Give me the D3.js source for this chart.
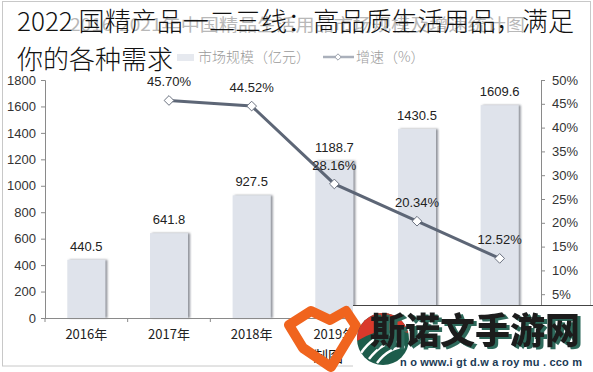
<!DOCTYPE html>
<html><head><meta charset="utf-8">
<script src="https://cdn.jsdelivr.net/npm/d3@7"></script>
<style>
html,body{margin:0;padding:0;background:#fff;}
svg{display:block;}
</style></head>
<body><svg id="c" width="593" height="372"></svg>
<script>
const categories = ["2016年","2017年","2018年","2019年","2020年","2021年"];
const marketSize = [440.5, 641.8, 927.5, 1188.7, 1430.5, 1609.6];
const growthCats = ["2017年","2018年","2019年","2020年","2021年"];
const growth = [45.70, 44.52, 28.16, 20.34, 12.52];
const leftTicks = [0,200,400,600,800,1000,1200,1400,1600,1800];
const rightTicks = [0,5,10,15,20,25,30,35,40,45,50];
const titleLines = ["2022 国精产品一二三线：高品质生活用品，满足","你的各种需求"];
const oldTitle = "2016-2021年中国精品生活用品市场规模及增速统计图";
const legendLabels = ["市场规模（亿元）","增速（%）"];

(function(){
const svg = d3.select("#c");
const pl = 45, pr = 541, pt = 80, pb = 318;
const latin = "'Liberation Sans', Arial, 'Noto Sans CJK SC', sans-serif";
const cjk = "'Noto Sans CJK SC', 'Liberation Sans', sans-serif";

const defs = svg.append("defs");
const f = defs.append("filter").attr("id","sh").attr("x","-20%").attr("width","150%");
f.append("feDropShadow").attr("dx",2).attr("dy",0).attr("stdDeviation",1.3)
  .attr("flood-color","#70757f").attr("flood-opacity",0.8);
const f2 = defs.append("filter").attr("id","ts").attr("x","-10%").attr("width","120%").attr("y","-20%").attr("height","150%");
f2.append("feDropShadow").attr("dx",3).attr("dy",2).attr("stdDeviation",0.3)
  .attr("flood-color","#2e6b5c").attr("flood-opacity",1);

// frame
svg.append("rect").attr("x",2.5).attr("y",1.5).attr("width",588).attr("height",364.5)
  .attr("fill","none").attr("stroke","#c8c8c8").attr("stroke-width",1);

const x = d3.scaleBand().domain(categories).range([pl,pr]).paddingInner(0.54).paddingOuter(0.27);
const xb = d3.scaleBand().domain(categories).range([pl,pr]);
const y = d3.scaleLinear().domain([0,1800]).range([pb,pt]);
const y2 = d3.scaleLinear().domain([0,50]).range([pb,pt]);

// old faded title
svg.append("text").attr("x",70).attr("y",31).attr("font-family",cjk).attr("font-size",17)
  .attr("fill","#b8b8b8").attr("textLength",455).attr("lengthAdjust","spacingAndGlyphs").text(oldTitle);

// legend
const lg = svg.append("g");
lg.append("rect").attr("x",177).attr("y",54).attr("width",17).attr("height",7).attr("fill","#e6e9ef");
lg.append("text").attr("x",198).attr("y",62).attr("font-family",cjk).attr("font-weight",300).attr("font-size",14)
  .attr("fill","#9a9a9a").text(legendLabels[0]);
lg.append("line").attr("x1",323).attr("x2",354).attr("y1",57).attr("y2",57).attr("stroke","#aab0bb").attr("stroke-width",2.5);
lg.append("path").attr("d",d3.symbol(d3.symbolDiamond2,26)()).attr("transform","translate(338,57)")
  .attr("fill","#fff").attr("stroke","#9aa0aa").attr("stroke-width",1);
lg.append("text").attr("x",356).attr("y",62).attr("font-family",cjk).attr("font-weight",300).attr("font-size",14)
  .attr("fill","#9a9a9a").text(legendLabels[1]);

// bars
svg.append("g").selectAll("rect").data(marketSize).join("rect")
  .attr("x",(d,i)=>x(categories[i])).attr("width",x.bandwidth())
  .attr("y",d=>y(d)).attr("height",d=>y(0)-y(d))
  .attr("fill","#dfe3eb").attr("filter","url(#sh)");

// axes
const axL = svg.append("g").attr("transform",`translate(${pl},0)`)
  .call(d3.axisLeft(y).tickValues(leftTicks).tickSize(4).tickPadding(5).tickFormat(d3.format("d")));
const axR = svg.append("g").attr("transform",`translate(${pr},0)`)
  .call(d3.axisRight(y2).tickValues(rightTicks).tickSize(4).tickPadding(7).tickFormat(d=>d+"%"));
const axB = svg.append("g").attr("transform",`translate(0,${pb})`)
  .call(d3.axisBottom(xb).tickSize(0).tickPadding(12));
axB.select(".domain").remove();
svg.append("line").attr("x1",pl).attr("x2",pr).attr("y1",pb+0.5).attr("y2",pb+0.5).attr("stroke","#8a8a8a");
svg.append("g").selectAll("line").data(d3.range(categories.length+1)).join("line")
  .attr("x1",i=>pl+i*xb.step()).attr("x2",i=>pl+i*xb.step())
  .attr("y1",pb).attr("y2",pb+4).attr("stroke","#8a8a8a");
[axL,axR,axB].forEach(a=>{
  a.selectAll(".domain").attr("stroke","#8a8a8a");
  a.selectAll(".tick line").attr("stroke","#8a8a8a");
  a.selectAll("text").attr("font-family",latin).attr("font-size",13).attr("fill","#333");
});
axB.selectAll("text").attr("font-family",cjk).attr("font-size",13).attr("fill","#222");

// bar labels
svg.append("g").selectAll("text").data(marketSize).join("text")
  .attr("x",(d,i)=>x(categories[i])+x.bandwidth()/2).attr("y",d=>y(d)-9)
  .attr("text-anchor","middle").attr("font-family",latin).attr("font-size",13).attr("fill","#222")
  .text(d=>d.toFixed(1));

// line
const cx = c => xb(c)+xb.bandwidth()/2;
svg.append("path").datum(growth)
  .attr("d",d3.line().x((d,i)=>cx(growthCats[i])).y(d=>y2(d)))
  .attr("fill","none").attr("stroke","#5d6676").attr("stroke-width",3);
svg.append("g").selectAll("path").data(growth).join("path")
  .attr("d",d3.symbol(d3.symbolDiamond2,60)())
  .attr("transform",(d,i)=>`translate(${cx(growthCats[i])},${y2(d)})`)
  .attr("fill","#fff").attr("stroke","#6b7280").attr("stroke-width",1);
svg.append("g").selectAll("text").data(growth).join("text")
  .attr("x",(d,i)=>cx(growthCats[i])).attr("y",d=>y2(d)-14)
  .attr("text-anchor","middle").attr("font-family",latin).attr("font-size",13).attr("fill","#222")
  .text(d=>d.toFixed(2)+"%");

// overlay title
svg.append("g").selectAll("text").data(titleLines).join("text")
  .attr("x",17).attr("y",(d,i)=>31+i*38)
  .attr("font-family",cjk).attr("font-weight",300).attr("font-size",26).attr("fill","#111")
  .attr("textLength",(d,i)=>i===0?557:null).attr("lengthAdjust","spacingAndGlyphs")
  .text(d=>d);

// source fragment
svg.append("text").attr("x",313).attr("y",362).attr("font-family",cjk).attr("font-size",15).attr("fill","#111").text("制图");

// watermark
svg.append("rect").attr("x",353).attr("y",305).attr("width",240).attr("height",67).attr("fill","#fff");
svg.append("line").attr("x1",353).attr("x2",593).attr("y1",305.5).attr("y2",305.5).attr("stroke","#444");
svg.append("path").attr("d","M289,325 L311,311 L330,320 L346,311 L356,326 L331,367 L303,348 Z")
  .attr("fill","none").attr("stroke","#f0641e").attr("stroke-width",10).attr("stroke-linejoin","round");
const lc = svg.append("g").attr("transform","translate(383,339)");
defs.append("clipPath").attr("id","cc").append("circle").attr("r",26);
const lcc = lc.append("g").attr("clip-path","url(#cc)");
lcc.append("rect").attr("x",-26).attr("y",-26).attr("width",52).attr("height",52).attr("fill","#1d5c4b");
lcc.append("path").attr("d","M-26,-26 H26 V-6 Q0,-14 -26,2 Z").attr("fill","#d9392b");
lcc.append("path").attr("d","M-22,14 Q-8,-6 10,-4 M-14,20 Q0,2 16,2 M-6,24 Q6,8 22,8").attr("fill","none").attr("stroke","#fff").attr("stroke-width",2.5);
svg.append("text").attr("x",370).attr("y",344).attr("font-family",cjk).attr("font-weight",900)
  .attr("font-size",36).attr("fill","#1b1f1f").attr("filter","url(#ts)")
  .attr("textLength",210).attr("lengthAdjust","spacingAndGlyphs").text("斯诺文手游网");
svg.append("text").attr("x",400).attr("y",366).attr("font-family",latin).attr("font-weight",700)
  .attr("font-size",11).attr("fill","#203a55").attr("textLength",182).attr("lengthAdjust","spacing")
  .text("n o www.i gt d.w a roy mu . cco m");
})();
</script></body></html>
